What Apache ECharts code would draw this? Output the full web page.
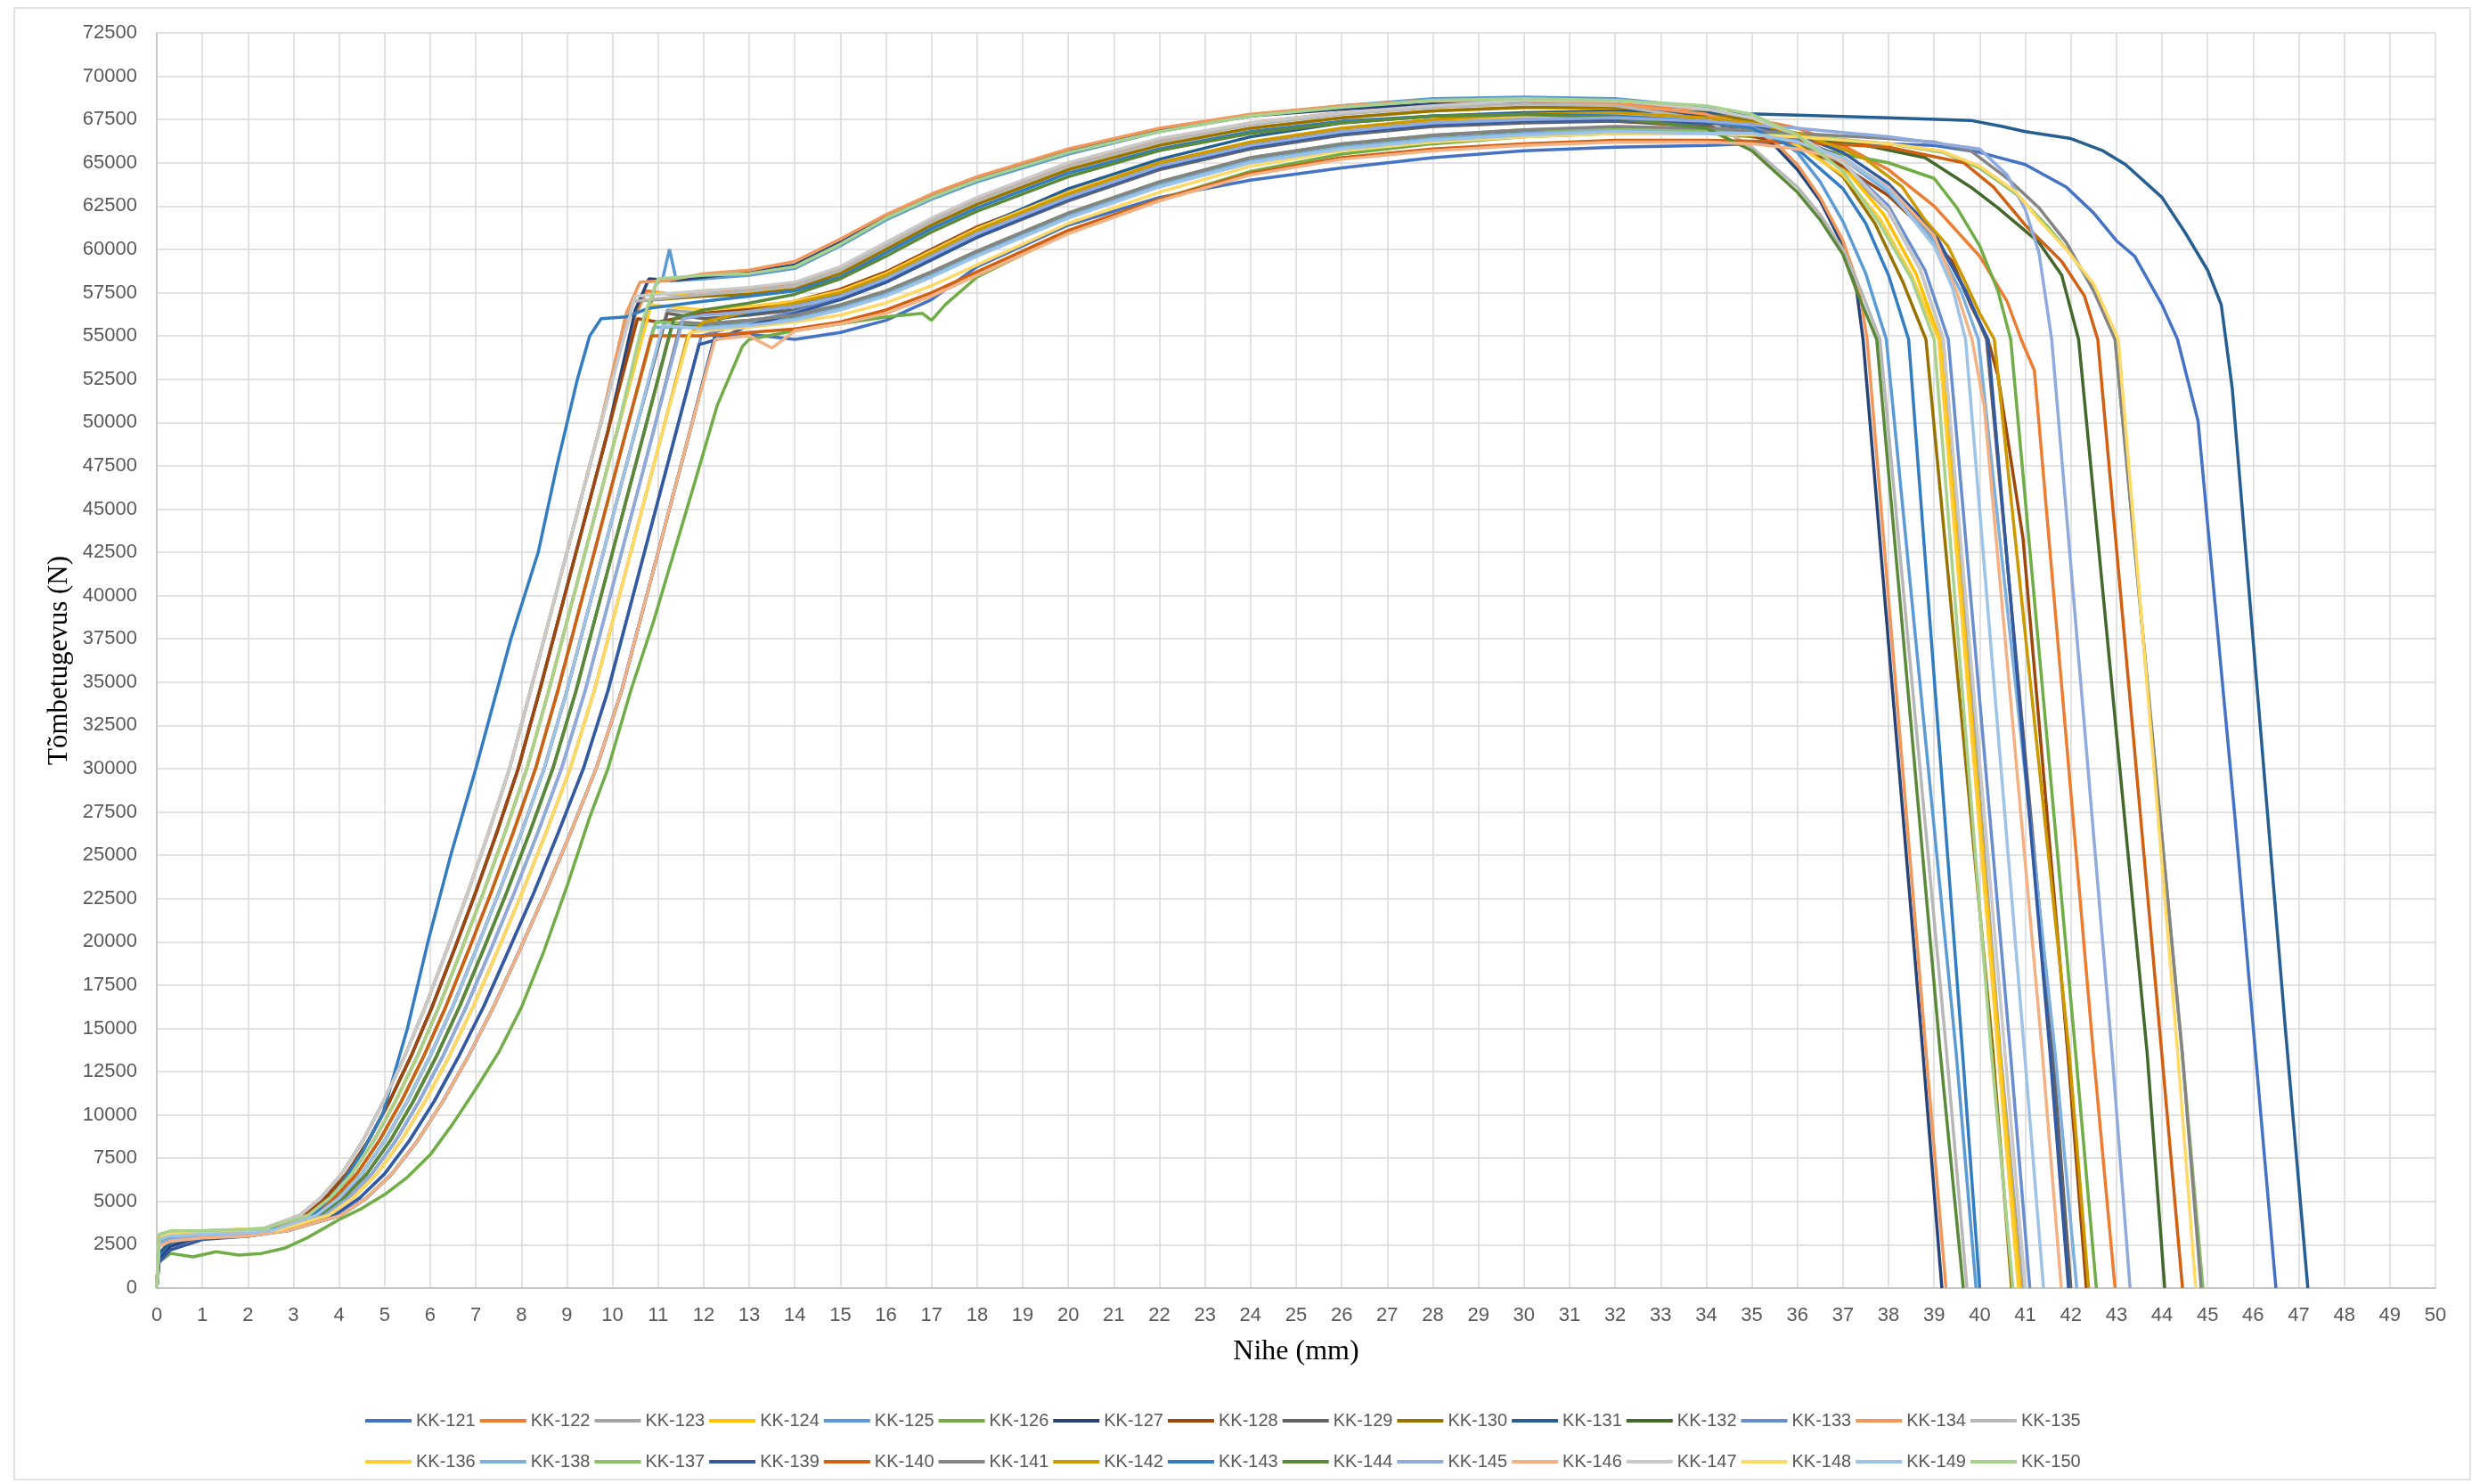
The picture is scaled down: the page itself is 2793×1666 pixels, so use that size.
<!DOCTYPE html>
<html>
<head>
<meta charset="utf-8">
<title>Tõmbetugevus</title>
<script src="https://cdn.jsdelivr.net/npm/echarts@6/dist/echarts.min.js"></script>
<style>
  html, body { margin: 0; padding: 0; background: #fff; }
  #chart { width: 2793px; height: 1666px; }
</style>
</head>
<body>
<div id="chart"></div>
<script>
// nihe (mm), tõmbetugevus (N) – loetud graafikult
const kk121 = [[0,0],[0.05,1800],[0.3,2600],[1,2900],[2,3000],
  [2.86,3300],[4.04,4200],[4.6,5200],[5.16,6600],[5.72,8500],[6.28,10800],[6.84,13400],[7.4,16300],[7.96,19500],[8.52,22800],[9.08,26300],[9.64,30000],[10.2,34500],[10.7,39500],[11.2,44500],[11.7,49500],
  [12.25,55000],[13,55100],[14,54800],[15,55200],[16,55900],[17,57100],[18,59000],[20,61400],[22,63000],[24,64000],[26,64700],[28,65300],[30,65700],[32,65900],[34,66000],
  [36,66200],[38,66100],[39,66000],[40,65600],[41,64900],[41.9,63600],[42.5,62100],[43,60500],[43.4,59600],[44,56800],[44.34,54800],[44.79,50100],[45.6,27200],[46.5,0]];
const kk122 = [[0,0],[0.05,2900],[0.3,3000],[1,3100],[2,3250],
  [2.32,3300],[3.23,4200],[3.7,5200],[4.17,6600],[4.64,8500],[5.11,10800],[5.58,13400],[6.05,16300],[6.52,19500],[6.99,22800],[7.46,26300],[7.93,30000],[8.4,34500],[8.9,39500],[9.4,44500],[9.9,49500],
  [10.5,56200],[10.75,57600],[11.3,57400],[12,57600],[13,57700],[14,58000],[15,58900],[16,60300],[17,61700],[18,62900],[20,64900],[22,66300],[24,67300],[26,67900],[28,68300],[30,68500],[32,68400],[34,68100],
  [36,67000],[37,66000],[38,64600],[39,62500],[40,59600],[40.6,57000],[40.91,54800],[41.2,53000],[42.49,13700],[42.97,0]];
const kk123 = [[0,0],[0.05,2800],[0.3,3000],[1,3100],[2,3200],
  [2.5,3300],[3.5,4200],[4,5200],[4.5,6600],[5,8500],[5.5,10800],[6,13400],[6.5,16300],[7,19500],[7.5,22800],[8,26300],[8.5,30000],[9,34500],[9.5,39500],[10,44500],[10.5,49500],
  [11.2,56500],[12,56300],[13,56500],[14,56800],[15,57400],[16,58400],[17,59700],[18,61000],[20,63100],[22,64900],[24,66100],[26,66900],[28,67400],[30,67600],[32,67700],[34,67400],
  [35,67000],[36,66200],[37,64700],[38,62200],[38.7,58800],[39.2,54800],[40.45,13700],[40.94,0]];
const kk124 = [[0,0],[0.05,3000],[0.3,3200],[1,3300],[2,3400],
  [2.38,3450],[3.32,4200],[3.8,5200],[4.28,6600],[4.76,8500],[5.24,10800],[5.72,13400],[6.2,16300],[6.68,19500],[7.16,22800],[7.64,26300],[8.12,30000],[8.6,34500],[9.1,39500],[9.6,44500],[10.1,49500],
  [10.9,57500],[12,57300],[13,57500],[14,57900],[15,58800],[16,60200],[17,61500],[18,62700],[20,64700],[22,66100],[24,67000],[26,67600],[28,68000],[30,68200],[32,68100],[34,67800],
  [35,67500],[36,66500],[37,64800],[37.9,62000],[38.6,58600],[39.13,54800],[40.43,13700],[40.89,0]];
const kk125 = [[0,0],[0.05,2900],[0.3,3100],[1,3200],[2,3300],
  [2.38,3350],[3.32,4200],[3.8,5200],[4.28,6600],[4.76,8500],[5.24,10800],[5.72,13400],[6.2,16300],[6.68,19500],[7.16,22800],[7.64,26300],[8.12,30000],[8.6,34500],[9.1,39500],[9.6,44500],[10.1,49500],
  [10.95,58000],[11.1,58300],[11.25,60000],[11.4,58200],[12,58300],[13,58500],[14,58900],[15,60200],[16,61700],[17,62900],[18,63900],[20,65500],[22,66800],[24,67700],[26,68300],[28,68700],[30,68800],[32,68700],[34,68200],
  [35,67400],[36,65600],[36.5,63900],[37,61600],[37.5,58600],[37.95,54800],[39.48,13700],[39.92,0]];
const kk126 = [[0,0],[0.05,1500],[0.3,2000],[0.8,1800],[1.3,2100],[1.8,1900],[2.3,2000],[2.8,2300],[3.3,2900],[4,3950],[4.5,4600],[5,5400],[5.5,6400],[6,7700],[6.5,9500],[7,11500],[7.5,13600],[8,16200],[8.5,19500],[9,23200],[9.5,27200],[9.9,30000],[10.4,34500],[10.9,38500],[11.35,42500],[11.8,46500],[12.3,51000],[12.85,54400],
  [13,54800],[14,55300],[15,55700],[16,56100],[16.8,56300],[17,55900],[17.3,56800],[18,58400],[20,61000],[22,62900],[24,64500],[26,65500],[28,66100],[30,66500],[32,66700],[34,66700],
  [35,66500],[37,65500],[38,65000],[39,64100],[39.5,62400],[40,60200],[40.4,57600],[40.68,54800],[42.1,13700],[42.56,0]];
const kk127 = [[0,0],[0.05,1600],[0.3,2400],[1,3000],[2,3200],
  [2.32,3300],[3.23,4200],[3.7,5200],[4.17,6600],[4.64,8500],[5.11,10800],[5.58,13400],[6.05,16300],[6.52,19500],[6.99,22800],[7.46,26300],[7.93,30000],[8.4,34500],[8.9,39500],[9.4,44500],[9.9,49500],
  [10.5,56500],[10.8,58300],[11.3,58200],[12,58400],[13,58700],[14,59100],[15,60400],[16,61900],[17,63100],[18,64100],[20,65700],[22,66900],[24,67700],[26,68100],[28,68400],[30,68500],[32,68300],[34,67700],
  [35,66900],[35.5,66000],[36,64600],[36.5,62800],[37,60200],[37.3,57600],[37.44,54800],[38.75,13700],[39.17,0]];
const kk128 = [[0,0],[0.05,2700],[0.3,2900],[1,3000],[2,3100],
  [2.32,3300],[3.23,4200],[3.7,5200],[4.17,6600],[4.64,8500],[5.11,10800],[5.58,13400],[6.05,16300],[6.52,19500],[6.99,22800],[7.46,26300],[7.93,30000],[8.4,34500],[8.9,39500],[9.4,44500],[9.9,49500],
  [10.55,56000],[11,55800],[12,56300],[13,56600],[14,57000],[15,57700],[16,58700],[17,60000],[18,61300],[20,63300],[22,65000],[24,66100],[26,66800],[28,67200],[30,67400],[32,67400],[34,67100],
  [36,66000],[37,64800],[38,63100],[38.8,61100],[39.4,59300],[39.8,56800],[40.18,54800],[40.4,52700],[40.95,43300],[41.93,13700],[42.34,0]];
const kk129 = [[0,0],[0.05,2800],[0.3,3000],[1,3100],[2,3200],
  [2.5,3300],[3.5,4200],[4,5200],[4.5,6600],[5,8500],[5.5,10800],[6,13400],[6.5,16300],[7,19500],[7.5,22800],[8,26300],[8.5,30000],[9,34500],[9.5,39500],[10,44500],[10.5,49500],
  [11.2,56300],[12,56000],[13,56200],[14,56500],[15,57100],[16,58100],[17,59400],[18,60700],[20,62800],[22,64600],[24,65800],[26,66600],[28,67100],[30,67300],[32,67400],[34,67200],
  [35,67000],[36,66400],[37,65300],[38,63500],[39,60800],[39.7,57600],[40.15,54800],[41.6,13700],[42,0]];
const kk130 = [[0,0],[0.05,2900],[0.3,3100],[1,3200],[2,3300],
  [2.26,3350],[3.14,4200],[3.6,5200],[4.06,6600],[4.52,8500],[4.98,10800],[5.44,13400],[5.9,16300],[6.36,19500],[6.82,22800],[7.28,26300],[7.74,30000],[8.2,34500],[8.7,39500],[9.2,44500],[9.7,49500],
  [10.45,57000],[12,57300],[13,57400],[14,57700],[15,58600],[16,60000],[17,61400],[18,62600],[20,64600],[22,66000],[24,67000],[26,67600],[28,68000],[30,68200],[32,68200],[34,67900],
  [35,67400],[36,66200],[37,64200],[37.7,61500],[38.3,58200],[38.82,54800],[40.29,13700],[40.7,0]];
const kk131 = [[0,0],[0.05,2000],[0.3,2700],[1,3000],[2,3100],
  [2.86,3300],[4.04,4200],[4.6,5200],[5.16,6600],[5.72,8500],[6.28,10800],[6.84,13400],[7.4,16300],[7.96,19500],[8.52,22800],[9.08,26300],[9.64,30000],[10.2,34500],[10.7,39500],[11.2,44500],[11.7,49500],
  [12.35,56000],[13,56300],[14,56700],[15,57400],[16,58500],[17,59900],[18,61200],[20,63500],[22,65200],[24,66500],[26,67300],[28,67700],[30,67900],[32,68000],[34,67900],
  [36,67750],[38,67600],[39.8,67450],[40.5,67100],[41,66800],[42,66400],[42.7,65700],[43.2,64900],[44,63000],[44.5,61000],[45,58800],[45.3,56800],[45.54,52000],[46.7,15200],[47.2,0]];
const kk132 = [[0,0],[0.05,2600],[0.3,2900],[1,3000],[2,3100],
  [2.56,3300],[3.59,4200],[4.1,5200],[4.61,6600],[5.12,8500],[5.63,10800],[6.14,13400],[6.65,16300],[7.16,19500],[7.67,22800],[8.18,26300],[8.69,30000],[9.2,34500],[9.7,39500],[10.2,44500],[10.7,49500],
  [11.3,55600],[12,55600],[13,55800],[14,56100],[15,56700],[16,57500],[17,58600],[18,59800],[20,62000],[22,63800],[24,65200],[26,66000],[28,66500],[30,66800],[32,67000],[34,66900],
  [36,66500],[37.5,66000],[38.8,65300],[39.8,63600],[40.4,62400],[41.3,60400],[41.8,58500],[42.17,54800],[43.67,13700],[44.06,0]];
const kk133 = [[0,0],[0.05,2500],[0.3,2800],[1,2900],[2,3000],
  [2.77,3300],[3.9,4200],[4.45,5200],[5,6600],[5.54,8500],[6.09,10800],[6.63,13400],[7.18,16300],[7.72,19500],[8.27,22800],[8.81,26300],[9.36,30000],[9.9,34500],[10.4,39500],[10.9,44500],[11.4,49500],
  [11.95,55000],[13,55800],[14,56400],[15,57200],[16,58200],[17,59500],[18,60800],[20,62900],[22,64700],[24,65900],[26,66700],[28,67200],[30,67400],[32,67500],[34,67300],
  [35,67100],[36,66300],[37,65000],[38,62500],[38.8,58800],[39.31,54800],[40.67,13700],[41.1,0]];
const kk134 = [[0,0],[0.05,2800],[0.3,3000],[1,3100],[2,3300],
  [2.26,3350],[3.14,4200],[3.6,5200],[4.06,6600],[4.52,8500],[4.98,10800],[5.44,13400],[5.9,16300],[6.36,19500],[6.82,22800],[7.28,26300],[7.74,30000],[8.2,34500],[8.7,39500],[9.2,44500],[9.7,49500],
  [10.3,56300],[10.6,58100],[11.2,58200],[12,58600],[13,58800],[14,59300],[15,60600],[16,62000],[17,63200],[18,64200],[20,65800],[22,67000],[24,67800],[26,68300],[28,68600],[30,68600],[32,68400],[34,67800],
  [35,67000],[35.5,66200],[36,64900],[36.5,63000],[37,60500],[37.35,57800],[37.53,54800],[38.82,13700],[39.26,0]];
const kk135 = [[0,0],[0.05,2900],[0.3,3100],[1,3200],[2,3300],
  [2.26,3350],[3.14,4200],[3.6,5200],[4.06,6600],[4.52,8500],[4.98,10800],[5.44,13400],[5.9,16300],[6.36,19500],[6.82,22800],[7.28,26300],[7.74,30000],[8.2,34500],[8.7,39500],[9.2,44500],[9.7,49500],
  [10.45,57000],[12,57400],[13,57600],[14,57900],[15,58800],[16,60200],[17,61600],[18,62800],[20,64800],[22,66200],[24,67200],[26,67800],[28,68200],[30,68400],[32,68300],[34,67500],
  [35,65900],[36,63600],[36.5,62000],[37,60000],[37.4,57600],[37.81,54800],[39.27,13700],[39.72,0]];
const kk136 = [[0,0],[0.05,3000],[0.3,3200],[1,3300],[2,3400],
  [2.38,3450],[3.32,4200],[3.8,5200],[4.28,6600],[4.76,8500],[5.24,10800],[5.72,13400],[6.2,16300],[6.68,19500],[7.16,22800],[7.64,26300],[8.12,30000],[8.6,34500],[9.1,39500],[9.6,44500],[10.1,49500],
  [10.85,56800],[12,56500],[13,56700],[14,57000],[15,57600],[16,58600],[17,59900],[18,61200],[20,63300],[22,65000],[24,66200],[26,67000],[28,67500],[30,67700],[32,67700],[34,67400],
  [35,67000],[36,66000],[37,64300],[37.8,61800],[38.5,58500],[39.1,54800],[40.4,13700],[40.85,0]];
const kk138 = [[0,0],[0.05,2700],[0.3,2900],[1,3000],[2,3100],
  [2.44,3300],[3.41,4200],[3.9,5200],[4.39,6600],[4.88,8500],[5.37,10800],[5.86,13400],[6.35,16300],[6.84,19500],[7.33,22800],[7.82,26300],[8.31,30000],[8.8,34500],[9.3,39500],[9.8,44500],[10.3,49500],
  [10.9,55500],[12,55500],[13,55700],[14,56000],[15,56600],[16,57400],[17,58500],[18,59700],[20,61900],[22,63700],[24,65100],[26,65900],[28,66400],[30,66700],[32,66900],[34,66800],
  [35,66700],[36,66200],[37,65200],[38,63300],[39,60500],[39.6,57500],[39.97,54800],[41.65,13700],[42.13,0]];
const kk137 = [[0,0],[0.05,2900],[0.3,3100],[1,3200],[2,3300],
  [2.44,3350],[3.41,4200],[3.9,5200],[4.39,6600],[4.88,8500],[5.37,10800],[5.86,13400],[6.35,16300],[6.84,19500],[7.33,22800],[7.82,26300],[8.31,30000],[8.8,34500],[9.3,39500],[9.8,44500],[10.3,49500],
  [10.95,55800],[12,55700],[13,55900],[14,56200],[15,56800],[16,57600],[17,58700],[18,59900],[20,62100],[22,63900],[24,65300],[26,66100],[28,66600],[30,66900],[32,67000],[34,66900],
  [36,66600],[38,66100],[39.2,65600],[40,64700],[40.8,63200],[41.5,61300],[42,59700],[42.5,57800],[42.97,54800],[44.44,13700],[44.9,0]];
const kk139 = [[0,0],[0.05,1500],[0.3,2200],[1,2800],[2,3000],
  [2.77,3300],[3.9,4200],[4.45,5200],[5,6600],[5.54,8500],[6.09,10800],[6.63,13400],[7.18,16300],[7.72,19500],[8.27,22800],[8.81,26300],[9.36,30000],[9.9,34500],[10.4,39500],[10.9,44500],[11.4,49500],
  [11.9,54500],[12.3,54800],[13,55600],[14,56300],[15,57100],[16,58100],[17,59400],[18,60700],[20,62900],[22,64700],[24,65900],[26,66700],[28,67200],[30,67400],[32,67500],[34,67300],
  [35,67200],[36,66600],[37,65600],[38,63800],[39,61000],[39.6,58000],[40.18,54800],[41.54,13700],[41.95,0]];
const kk140 = [[0,0],[0.05,2800],[0.3,3000],[1,3100],[2,3200],
  [2.44,3300],[3.41,4200],[3.9,5200],[4.39,6600],[4.88,8500],[5.37,10800],[5.86,13400],[6.35,16300],[6.84,19500],[7.33,22800],[7.82,26300],[8.31,30000],[8.8,34500],[9.3,39500],[9.8,44500],[10.3,49500],
  [10.85,55000],[12,55000],[13,55200],[14,55400],[15,55800],[16,56500],[17,57500],[18,58700],[20,61100],[22,62900],[24,64400],[26,65300],[28,65800],[30,66100],[32,66300],[34,66300],
  [36,66200],[38,65900],[39.65,65000],[40.3,63600],[41,61400],[41.8,59300],[42.3,57300],[42.59,54800],[43.99,13700],[44.45,0]];
const kk141 = [[0,0],[0.05,2800],[0.3,3000],[1,3100],[2,3200],
  [2.62,3300],[3.68,4200],[4.2,5200],[4.72,6600],[5.24,8500],[5.76,10800],[6.28,13400],[6.8,16300],[7.32,19500],[7.84,22800],[8.36,26300],[8.88,30000],[9.4,34500],[9.9,39500],[10.4,44500],[10.9,49500],
  [11.5,55800],[12,55700],[13,55900],[14,56200],[15,56800],[16,57600],[17,58700],[18,59900],[20,62100],[22,63900],[24,65300],[26,66100],[28,66600],[30,66900],[32,67100],[34,67000],
  [36,66700],[38,66400],[39,66200],[39.8,65700],[40.65,64000],[41.3,62400],[41.9,60400],[42.5,57600],[42.97,54800],[44.44,13700],[44.86,0]];
const kk142 = [[0,0],[0.05,2700],[0.3,2900],[1,3000],[2,3100],
  [2.68,3300],[3.77,4200],[4.3,5200],[4.83,6600],[5.36,8500],[5.89,10800],[6.42,13400],[6.95,16300],[7.48,19500],[8.01,22800],[8.54,26300],[9.07,30000],[9.6,34500],[10.1,39500],[10.6,44500],[11.1,49500],
  [11.65,55000],[12,55800],[13,56400],[14,56900],[15,57500],[16,58500],[17,59800],[18,61100],[20,63200],[22,65000],[24,66200],[26,67000],[28,67500],[30,67800],[32,67900],[34,67600],
  [35,67300],[36,66700],[37,65800],[37.5,65200],[38.3,63600],[38.8,61700],[39.3,60200],[39.65,58300],[40,56300],[40.32,54800],[41.96,13700],[42.39,0]];
const kk143 = [[0,0],[0.05,2600],[0.3,2900],[1,3000],[2,3200],
  [2.3,3300],[3,3600],[3.5,4400],[4,5800],[4.5,7800],[4.95,10000],[5.5,15000],[5.95,20000],[6.45,25000],[7,30000],[7.77,37500],[8.37,42500],[8.78,47500],[9.23,52500],[9.5,55000],[9.75,56000],
  [10.3,56100],[10.8,56600],[12,57000],[13,57300],[14,57600],[15,58400],[16,59800],[17,61200],[18,62400],[20,64400],[22,65800],[24,66800],[26,67400],[28,67700],[30,67800],[32,67700],[34,67400],
  [35,67000],[36,65800],[37,63500],[37.5,61500],[38,58500],[38.44,54800],[39.62,13700],[40,0]];
const kk144 = [[0,0],[0.05,2700],[0.3,2900],[1,3000],[2,3100],
  [2.56,3300],[3.59,4200],[4.1,5200],[4.61,6600],[5.12,8500],[5.63,10800],[6.14,13400],[6.65,16300],[7.16,19500],[7.67,22800],[8.18,26300],[8.69,30000],[9.2,34500],[9.7,39500],[10.2,44500],[10.7,49500],
  [11.35,56000],[12,56500],[13,56900],[14,57400],[15,58300],[16,59600],[17,61000],[18,62200],[20,64200],[22,65700],[24,66700],[26,67300],[28,67700],[30,67800],[32,67600],[34,67000],
  [35,65700],[36,63300],[36.5,61700],[37,59700],[37.3,57600],[37.74,54800],[39.13,13700],[39.64,0]];
const kk145 = [[0,0],[0.05,2600],[0.3,2800],[1,3000],[2,3100],
  [2.62,3300],[3.68,4200],[4.2,5200],[4.72,6600],[5.24,8500],[5.76,10800],[6.28,13400],[6.8,16300],[7.32,19500],[7.84,22800],[8.36,26300],[8.88,30000],[9.4,34500],[9.9,39500],[10.4,44500],[10.9,49500],
  [11.55,56000],[12,56200],[13,56400],[14,56700],[15,57300],[16,58300],[17,59600],[18,60900],[20,63000],[22,64800],[24,66000],[26,66800],[28,67300],[30,67500],[32,67600],[34,67400],
  [36,67000],[38,66500],[40,65800],[40.6,64300],[41,62300],[41.3,59800],[41.58,54800],[42.9,13700],[43.3,0]];
const kk146 = [[0,0],[0.05,2400],[0.3,2700],[1,2900],[2,3000],
  [2.86,3300],[4.04,4200],[4.6,5200],[5.16,6600],[5.72,8500],[6.28,10800],[6.84,13400],[7.4,16300],[7.96,19500],[8.52,22800],[9.08,26300],[9.64,30000],[10.2,34500],[10.7,39500],[11.2,44500],[11.7,49500],
  [12.25,54800],[13,55000],[13.5,54300],[14,55300],[15,55700],[16,56300],[17,57300],[18,58500],[20,60900],[22,62800],[24,64300],[26,65200],[28,65700],[30,66000],[32,66200],[34,66200],
  [35,66100],[36,65800],[37,65200],[38,63600],[39,60800],[39.5,57500],[39.83,54800],[40.1,50900],[41.37,13700],[41.79,0]];
const kk147 = [[0,0],[0.05,3000],[0.3,3200],[1,3300],[2,3300],
  [2.26,3350],[3.14,4200],[3.6,5200],[4.06,6600],[4.52,8500],[4.98,10800],[5.44,13400],[5.9,16300],[6.36,19500],[6.82,22800],[7.28,26300],[7.74,30000],[8.2,34500],[8.7,39500],[9.2,44500],[9.7,49500],
  [10.5,57300],[12,57600],[13,57800],[14,58100],[15,59000],[16,60400],[17,61800],[18,63000],[20,65000],[22,66400],[24,67300],[26,67900],[28,68300],[30,68600],[32,68600],[34,68100],
  [35,67600],[36,66600],[37,65000],[38,62300],[38.7,58800],[39.2,54800],[40.55,13700],[41,0]];
const kk148 = [[0,0],[0.05,2900],[0.3,3100],[1,3200],[2,3300],
  [2.68,3350],[3.77,4200],[4.3,5200],[4.83,6600],[5.36,8500],[5.89,10800],[6.42,13400],[6.95,16300],[7.48,19500],[8.01,22800],[8.54,26300],[9.07,30000],[9.6,34500],[10.1,39500],[10.6,44500],[11.1,49500],
  [11.7,55200],[12,55300],[13,55500],[14,55800],[15,56200],[16,56900],[17,57900],[18,59100],[20,61500],[22,63300],[24,64800],[26,65700],[28,66200],[30,66500],[32,66700],[34,66700],
  [36,66500],[38,66100],[39.15,65700],[40,64800],[40.8,63300],[41.3,61700],[41.9,60000],[42.5,58000],[43.04,54800],[44.34,13700],[44.74,0]];
const kk149 = [[0,0],[0.05,2800],[0.3,3000],[1,3100],[2,3200],
  [2.5,3300],[3.5,4200],[4,5200],[4.5,6600],[5,8500],[5.5,10800],[6,13400],[6.5,16300],[7,19500],[7.5,22800],[8,26300],[8.5,30000],[9,34500],[9.5,39500],[10,44500],[10.5,49500],
  [11.1,55600],[12,55400],[13,55600],[14,55900],[15,56500],[16,57300],[17,58400],[18,59600],[20,61800],[22,63600],[24,65000],[26,65800],[28,66300],[30,66600],[32,66800],[34,66700],
  [35,66700],[36,66200],[37,65300],[38,63500],[39,60200],[39.4,57800],[39.69,54800],[40.98,13700],[41.4,0]];
const kk150 = [[0,0],[0.05,3100],[0.3,3300],[1,3300],[2,3400],
  [2.38,3450],[3.32,4200],[3.8,5200],[4.28,6600],[4.76,8500],[5.24,10800],[5.72,13400],[6.2,16300],[6.68,19500],[7.16,22800],[7.64,26300],[8.12,30000],[8.6,34500],[9.1,39500],[9.6,44500],[10.1,49500],
  [10.7,56200],[11,58300],[12,58500],[13,58600],[14,59000],[15,60300],[16,61800],[17,63000],[18,64000],[20,65600],[22,66800],[24,67700],[26,68200],[28,68600],[30,68700],[32,68600],[34,68300],
  [35,67800],[36,66600],[37,64500],[37.8,61500],[38.5,58300],[39,54800],[40.25,13700],[40.73,0]];

// seeria nimed joonise järjekorras (legendis on 138 enne 137)
const names = ['KK-121','KK-122','KK-123','KK-124','KK-125','KK-126','KK-127','KK-128','KK-129','KK-130',
  'KK-131','KK-132','KK-133','KK-134','KK-135','KK-136','KK-138','KK-137','KK-139','KK-140',
  'KK-141','KK-142','KK-143','KK-144','KK-145','KK-146','KK-147','KK-148','KK-149','KK-150'];
const curves = [kk121, kk122, kk123, kk124, kk125, kk126, kk127, kk128, kk129, kk130,
  kk131, kk132, kk133, kk134, kk135, kk136, kk138, kk137, kk139, kk140,
  kk141, kk142, kk143, kk144, kk145, kk146, kk147, kk148, kk149, kk150];
const colors = ['#4472C4','#ED7D31','#A5A5A5','#FFC000','#5B9BD5','#70AD47',
  '#264478','#9E480E','#636363','#997300','#255E91','#43682B',
  '#698ED0','#F1975A','#B7B7B7','#FFCD33','#7CAFDD','#8CC168',
  '#335AA1','#D26012','#848484','#CC9A00','#327DC2','#5A8A39',
  '#8FAADC','#F4B183','#C9C9C9','#FFD966','#9DC3E6','#A9D18E'];

const chart = echarts.init(document.getElementById('chart'));

const legendBase = {
  left: 405,
  icon: 'rect',
  itemWidth: 52,
  itemHeight: 4,
  itemGap: 5,
  textStyle: { fontFamily: 'Liberation Sans', fontSize: 20, color: '#595959' }
};

const option = {
  animation: false,
  backgroundColor: '#fff',
  color: colors,
  graphic: [{
    type: 'rect',
    shape: { x: 16, y: 9, width: 2757, height: 1652 },
    style: { fill: 'none', stroke: '#d9d9d9', lineWidth: 1.5 },
    silent: true
  }],
  grid: { left: 176, right: 59, top: 37, bottom: 220 },
  legend: [
    Object.assign({ top: 1580, data: names.slice(0, 15) }, legendBase),
    Object.assign({ top: 1626, data: names.slice(15) }, legendBase)
  ],
  xAxis: {
    type: 'value',
    min: 0,
    max: 50,
    interval: 1,
    name: 'Nihe (mm)',
    nameLocation: 'middle',
    nameGap: 56,
    nameTextStyle: { fontFamily: 'Liberation Serif', fontSize: 32, color: '#000' },
    axisLine: { show: true, lineStyle: { color: '#bfbfbf', width: 1.5 } },
    axisTick: { show: false },
    axisLabel: { fontFamily: 'Liberation Sans', fontSize: 22, color: '#595959', margin: 20 },
    splitLine: { show: true, lineStyle: { color: '#d9d9d9', width: 1.5 } }
  },
  yAxis: {
    type: 'value',
    min: 0,
    max: 72500,
    interval: 2500,
    name: 'Tõmbetugevus (N)',
    nameLocation: 'middle',
    nameGap: 92,
    nameRotate: 90,
    nameTextStyle: { fontFamily: 'Liberation Serif', fontSize: 31, color: '#000' },
    axisLine: { show: true, lineStyle: { color: '#bfbfbf', width: 1.5 } },
    axisTick: { show: false },
    axisLabel: {
      fontFamily: 'Liberation Sans', fontSize: 22, color: '#595959', margin: 22,
      formatter: v => String(v)
    },
    splitLine: { show: true, lineStyle: { color: '#d9d9d9', width: 1.5 } }
  },
  series: curves.map((d, i) => ({
    name: names[i],
    type: 'line',
    data: d,
    symbol: 'none',
    silent: true,
    lineStyle: { width: 3.5, color: colors[i] },
    itemStyle: { color: colors[i] }
  }))
};

chart.setOption(option);
</script>
</body>
</html>
